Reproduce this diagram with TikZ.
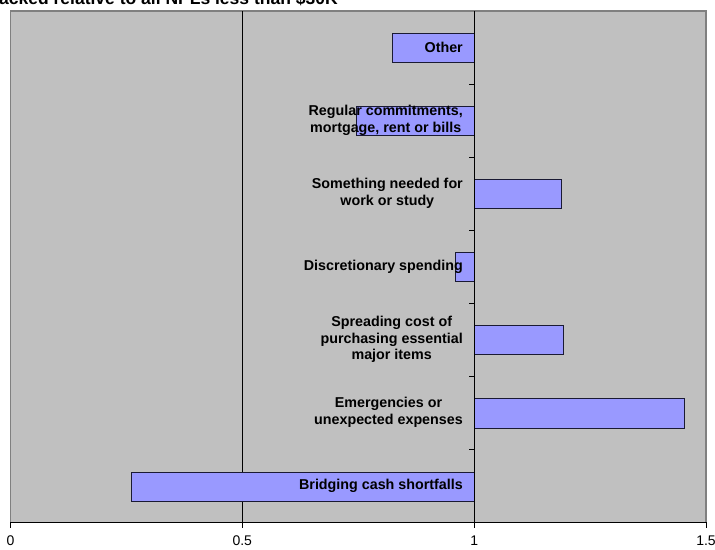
\documentclass[tikz,border=0pt]{standalone}
\usepackage{fontspec}
\setmainfont{Liberation Sans}
\definecolor{plotbg}{HTML}{C0C0C0}
\definecolor{barfill}{HTML}{9999FF}
\definecolor{barline}{HTML}{1A1A33}
\definecolor{framegray}{HTML}{808080}
\begin{document}
\begin{tikzpicture}[x=1pt,y=-1pt,
  lab/.style={anchor=east, align=center, inner sep=0pt, font=\bfseries\fontsize{14.3}{16.7}\selectfont},
  ticklab/.style={anchor=center, inner sep=0pt, font=\fontsize{14}{16}\selectfont},
  bar/.style={fill=barfill, draw=barline, line width=0.8pt},
  axisline/.style={black, line width=1pt}]
\useasboundingbox (0,0) rectangle (715,549);
% title (cut off at top)
\node[anchor=base west, inner sep=0pt, font=\bfseries\fontsize{17.5}{20}\selectfont] (title) at (-1,4) {acked relative to all NPLs less than \$30K};
% plot area
\fill[plotbg] (10.5,11) rectangle (706,522);
\draw[framegray, line width=1.3pt] (10.5,522) -- (10.5,11) -- (706,11) -- (706,522);
\draw[black, line width=0.7pt] (242.3,11) -- (242.3,522);
% bars (value axis crosses at 1, x = 10.5 + 463.67 v)
\draw[bar] (392,33) rectangle (474.2,62);
\draw[bar] (356,106) rectangle (474.2,135);
\draw[bar] (474.2,179) rectangle (561,208);
\draw[bar] (455,252) rectangle (474.2,281);
\draw[bar] (474.2,325) rectangle (563,354);
\draw[bar] (474.2,398) rectangle (684,428);
\draw[bar] (131.7,472) rectangle (474.2,501);
% vertical axis at 1
\draw[axisline] (474.2,11) -- (474.2,522);
\foreach \y in {84,157,230,303,376,449} \draw[axisline] (469,\y) -- (474.2,\y);
% horizontal axis
\draw[axisline] (10.5,522) -- (706,522);
\foreach \x in {10.5,242.3,474.2,706} \draw[axisline] (\x,522) -- (\x,527.5);
\node[ticklab] (t0) at (10.5,541) {0};
\node[ticklab] (t05) at (242.3,541) {0.5};
\node[ticklab] (t1) at (474.2,541) {1};
\node[ticklab] (t15) at (706,541) {1.5};
% category labels
\node[lab] (l1) at (463,47) {Other};
\node[lab] (l2) at (463,120.5) {Regular commitments,\\mortgage, rent or bills};
\node[lab] (l3) at (463,193.5) {Something needed for\\work or study};
\node[lab] (l4) at (463,266.5) {Discretionary spending};
\node[lab] (l5) at (463,339.5) {Spreading cost of\\purchasing essential\\major items};
\node[lab] (l6) at (463,412.5) {Emergencies or\\unexpected expenses};
\node[lab] (l7) at (463,486) {Bridging cash shortfalls};
\end{tikzpicture}
\end{document}
